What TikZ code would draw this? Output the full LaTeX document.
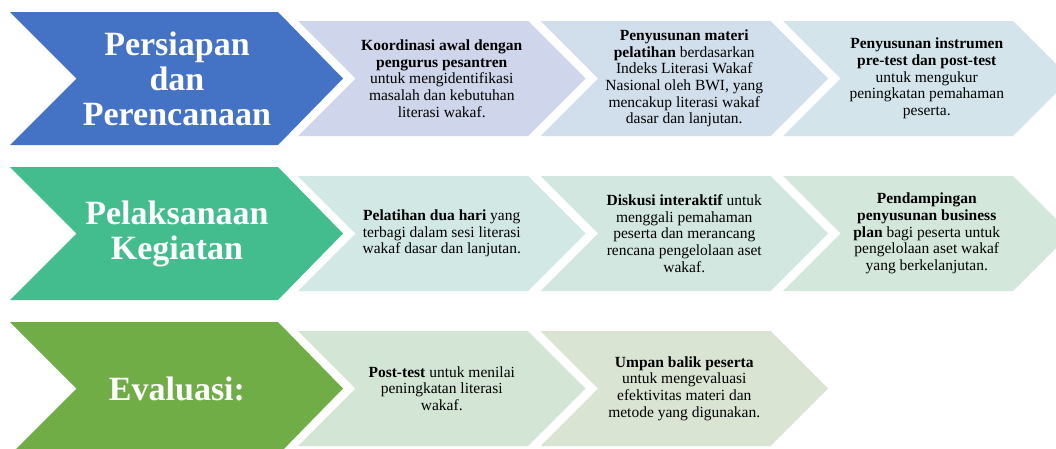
\documentclass[tikz,border=0pt]{standalone}
\usepackage{fontspec}
\setmainfont{Liberation Serif}
\usepackage{tikz}
\definecolor{prepblue}{HTML}{4472C4}
\definecolor{rungreen}{HTML}{44BD8E}
\definecolor{evalgreen}{HTML}{70AD47}
\definecolor{prepA}{HTML}{CFD5EA}
\definecolor{prepB}{HTML}{D1DEEB}
\definecolor{prepC}{HTML}{D3E5EB}
\definecolor{runA}{HTML}{D2E8E5}
\definecolor{runB}{HTML}{D2E7DF}
\definecolor{runC}{HTML}{D3E8DA}
\definecolor{evalA}{HTML}{D3E6D5}
\definecolor{evalB}{HTML}{D9E4D3}
\tikzset{
  phase/.style={text=white,align=center,font=\fontsize{34}{35}\selectfont\bfseries},
  note/.style={text=black,align=center,font=\fontsize{15.5}{16.7}\selectfont},
}
% big chevron: colour, top, name of its centre
\newcommand\bigchev[3]{%
  \fill[#1] (10,#2) -- ++(268,0) -- ++(65,66.5) -- ++(-65,66.5) -- ++(-268,0) -- ++(66.5,-66.5) -- cycle;
  \coordinate (#3) at (177,#2+66.5);}
% small chevron: colour, left, top, name of its centre
\newcommand\smallchev[4]{%
  \fill[#1] (#2,#3) -- ++(230,0) -- ++(57.5,57.5) -- ++(-57.5,57.5) -- ++(-230,0) -- ++(57.5,-57.5) -- cycle;
  \coordinate (#4) at (#2+143.75,#3+57.5);}
\begin{document}
\begin{tikzpicture}[x=1pt,y=-1pt]
	\useasboundingbox (0,0) rectangle (1056,448);
	% row 1
	\bigchev{prepblue}{12}{c-prep}
	\smallchev{prepA}{298}{21}{c-prep-1}
	\smallchev{prepB}{540.5}{21}{c-prep-2}
	\smallchev{prepC}{783}{21}{c-prep-3}
	\node[phase] (prep) at (c-prep) {Persiapan\\dan\\Perencanaan};
	\node[note] (prep-1) at (c-prep-1) {\textbf{Koordinasi awal dengan}\\\textbf{pengurus pesantren}\\untuk mengidentifikasi\\masalah dan kebutuhan\\literasi wakaf.};
	\node[note] (prep-2) at (c-prep-2) {\textbf{Penyusunan materi}\\\textbf{pelatihan} berdasarkan\\Indeks Literasi Wakaf\\Nasional oleh BWI, yang\\mencakup literasi wakaf\\dasar dan lanjutan.};
	\node[note] (prep-3) at (c-prep-3) {\textbf{Penyusunan instrumen}\\\textbf{pre-test dan post-test}\\untuk mengukur\\peningkatan pemahaman\\peserta.};
	% row 2
	\bigchev{rungreen}{167}{c-run}
	\smallchev{runA}{298}{176}{c-run-1}
	\smallchev{runB}{540.5}{176}{c-run-2}
	\smallchev{runC}{783}{176}{c-run-3}
	\node[phase] (run) at (c-run) {Pelaksanaan\\Kegiatan};
	\node[note] (run-1) at (c-run-1) {\textbf{Pelatihan dua hari} yang\\terbagi dalam sesi literasi\\wakaf dasar dan lanjutan.};
	\node[note] (run-2) at (c-run-2) {\textbf{Diskusi interaktif} untuk\\menggali pemahaman\\peserta dan merancang\\rencana pengelolaan aset\\wakaf.};
	\node[note] (run-3) at (c-run-3) {\textbf{Pendampingan}\\\textbf{penyusunan business}\\\textbf{plan} bagi peserta untuk\\pengelolaan aset wakaf\\yang berkelanjutan.};
	% row 3
	\bigchev{evalgreen}{322}{c-eval}
	\smallchev{evalA}{298}{331}{c-eval-1}
	\smallchev{evalB}{540.5}{331}{c-eval-2}
	\node[phase] (eval) at (c-eval) {Evaluasi:};
	\node[note] (eval-1) at (c-eval-1) {\textbf{Post-test} untuk menilai\\peningkatan literasi\\wakaf.};
	\node[note] (eval-2) at (c-eval-2) {\textbf{Umpan balik peserta}\\untuk mengevaluasi\\efektivitas materi dan\\metode yang digunakan.};
\end{tikzpicture}
\end{document}
